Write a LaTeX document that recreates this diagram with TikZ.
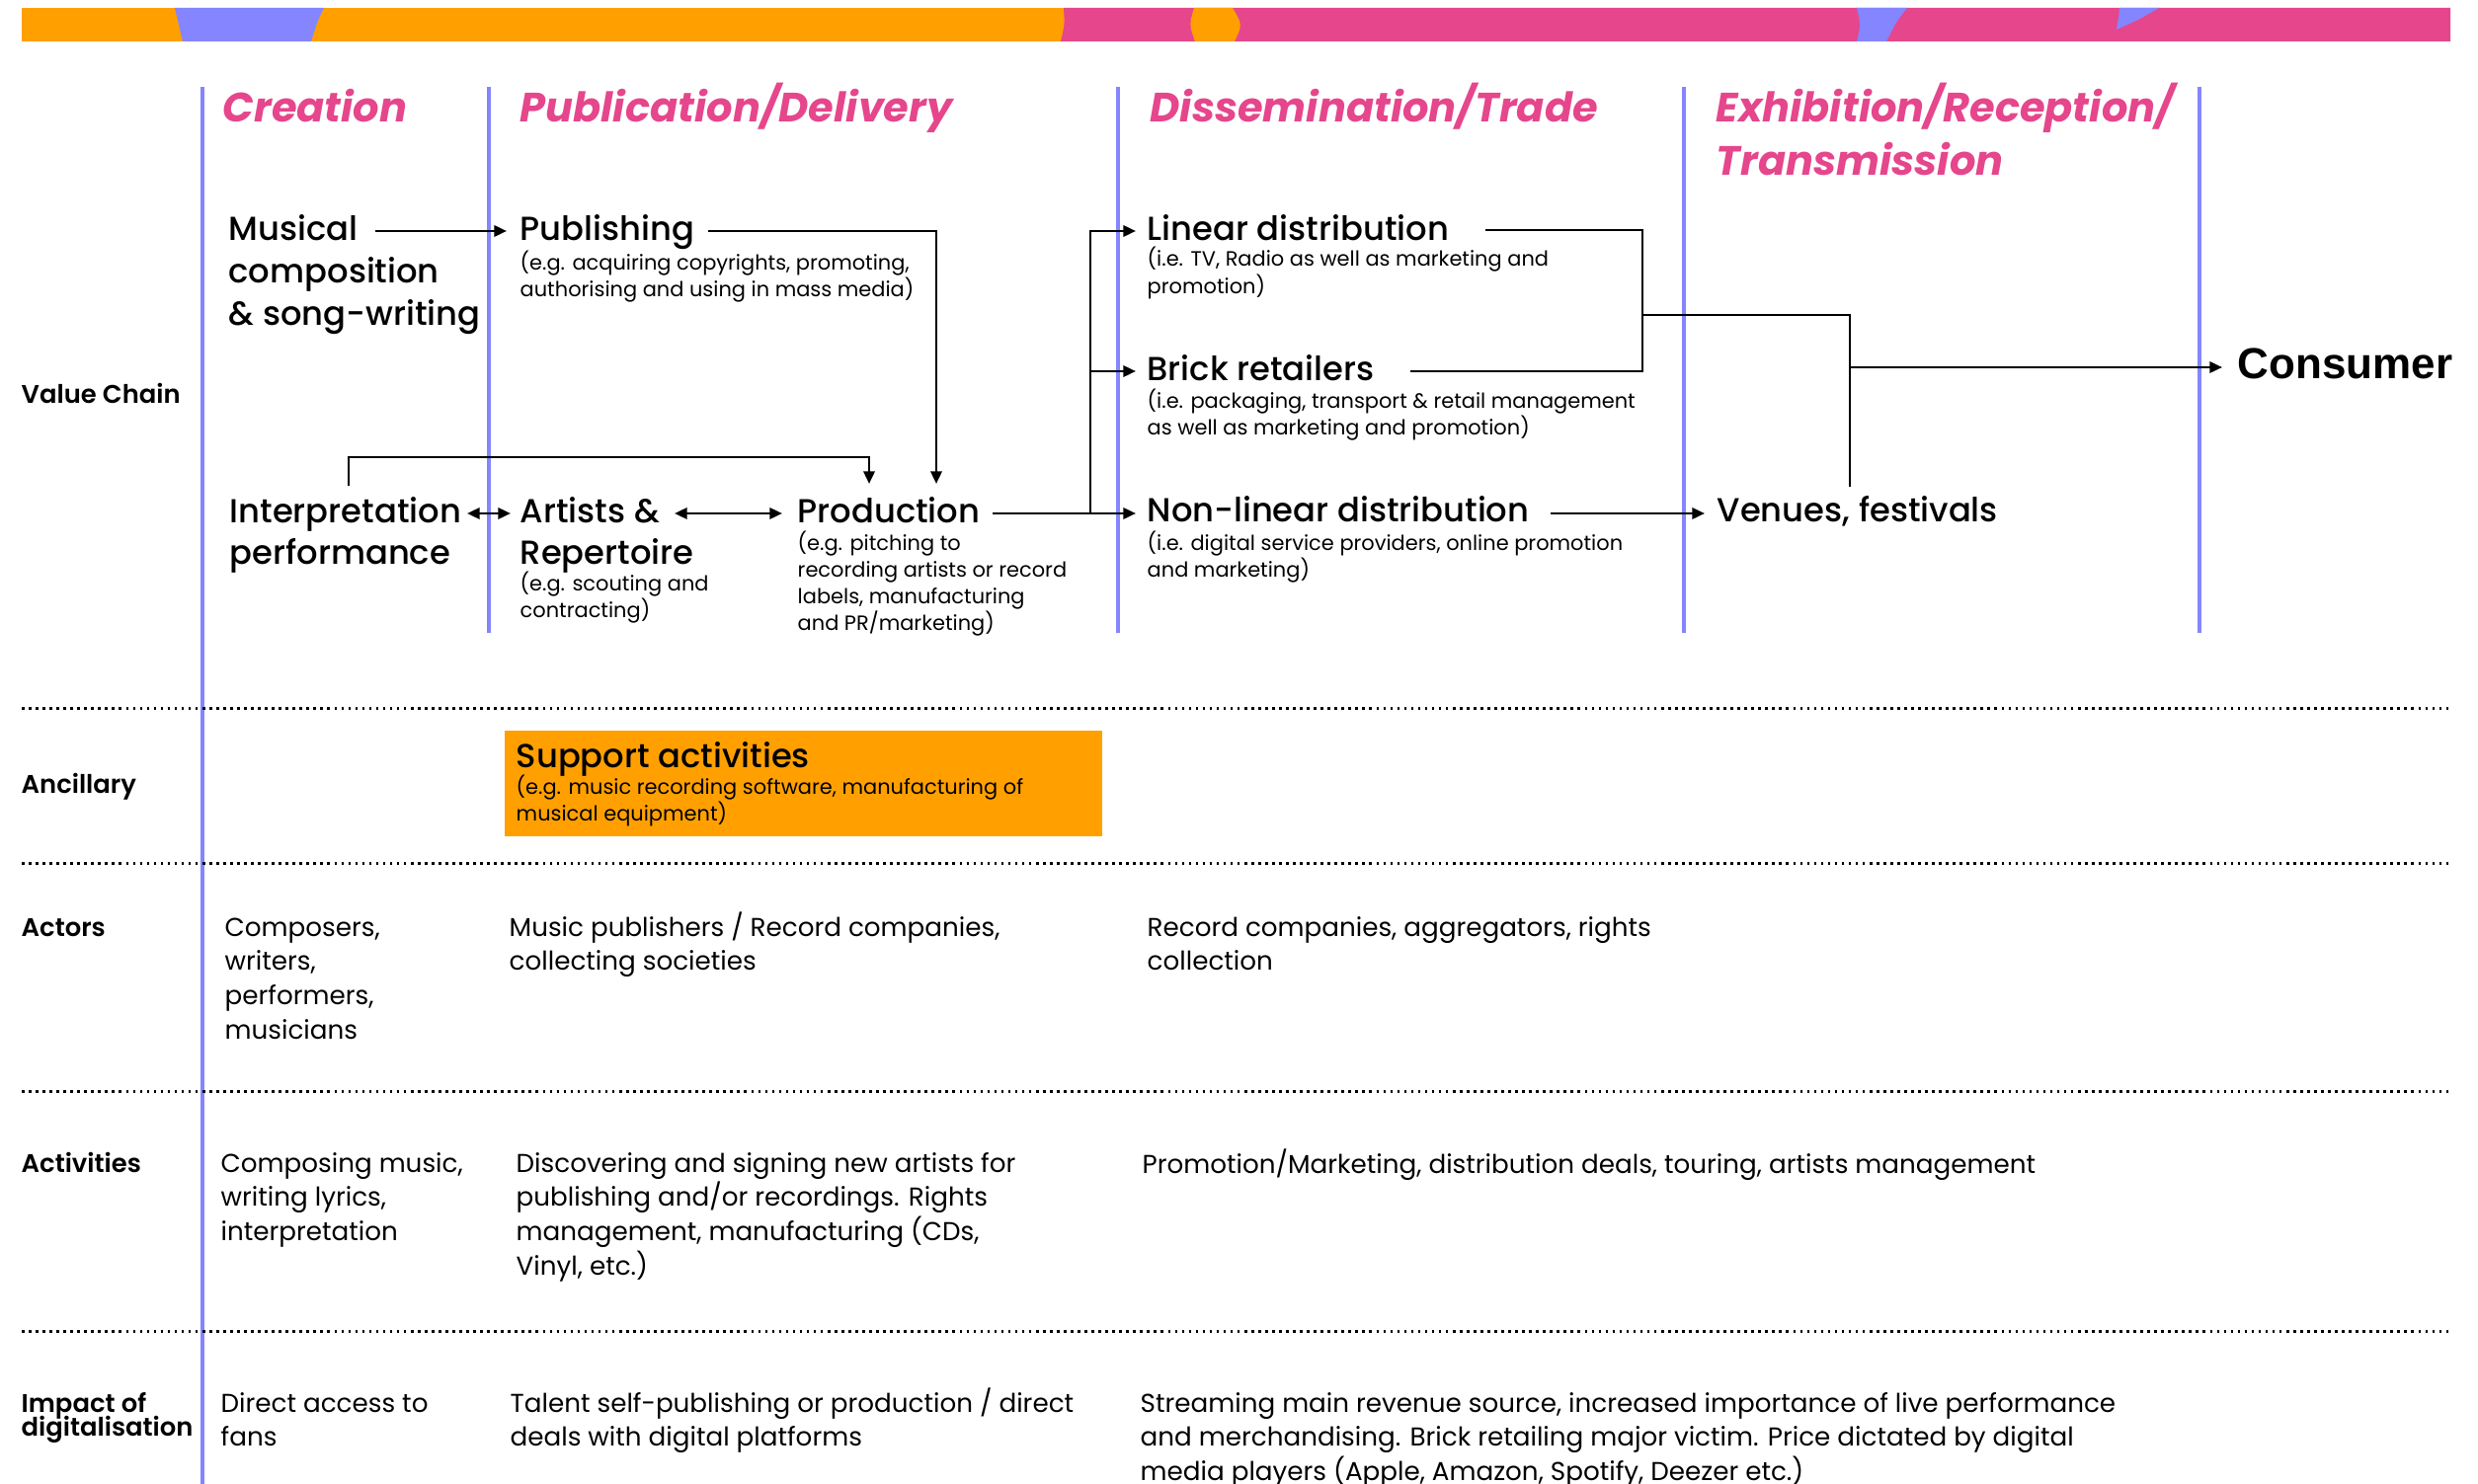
\documentclass[tikz,border=0pt]{standalone}
\usepackage{fontspec}
\setmainfont{Poppins}
\newfontfamily\pmed{Poppins Medium}
\newfontfamily\psemi{Poppins SemiBold}
\newfontfamily\arialf{Liberation Sans}
\usetikzlibrary{arrows.meta}
\definecolor{vio}{HTML}{8585FF}
\definecolor{pnk}{HTML}{E5468C}
\definecolor{org}{HTML}{FFA000}
\newcommand\ml[1]{\vtop{\lineskiplimit=-50pt\let\\\cr\halign{##\hfil\cr#1\crcr}}}
\begin{document}
\begin{tikzpicture}[x=0.01cm,y=-0.01cm,
  vline/.style={draw=vio, line width=1.3pt},
  dotl/.style={line width=0.85pt, dash pattern=on 0.75pt off 1.25pt},
  conn/.style={line width=0.75pt},
  arr/.style={conn, -{Triangle[length=3.6pt,width=3.2pt]}},
  darr/.style={conn, {Triangle[length=3.6pt,width=3.2pt]}-{Triangle[length=3.6pt,width=3.2pt]}},
  hdr/.style={anchor=base west, inner sep=0, text=pnk, font=\fontsize{11.8}{15.1}\selectfont\bfseries\itshape},
  ttl/.style={anchor=base west, inner sep=0, font=\pmed\fontsize{9.6}{12.1}\selectfont},
  sub/.style={anchor=base west, inner sep=0, font=\fontsize{5.95}{7.7}\selectfont},
  body/.style={anchor=base west, inner sep=0, font=\fontsize{7.45}{9.9}\selectfont},
  lbl/.style={anchor=base west, inner sep=0, font=\psemi\fontsize{7.35}{7.1}\selectfont},
]
\useasboundingbox (0,0) rectangle (2509,1503);
\clip (0,0) rectangle (2509,1503);
\fill[white] (0,0) rectangle (2509,1503);

% top band
\fill[org] (22,8) rectangle (2481,42);
\fill[vio] (177,8) -- (328,8) .. controls (322,20) .. (315,42) -- (185,42) .. controls (180,25) .. (177,8) -- cycle;
\fill[pnk] (1077,8) -- (2481,8) -- (2481,42) -- (1074,42) .. controls (1078,25) .. (1077,8) -- cycle;
\fill[org] (1209,8) -- (1248,8) .. controls (1258,25) .. (1250,42) -- (1210,42) .. controls (1204,25) .. (1209,8) -- cycle;
\fill[vio] (1880,8) -- (1931,8) .. controls (1920,22) .. (1910,42) -- (1880,42) .. controls (1884,25) .. (1880,8) -- cycle;
\fill[vio] (2146,8) -- (2186,8) -- (2165,20) -- (2143,30) -- (2145,18) -- cycle;

% vertical lines
\draw[vline] (205,88) -- (205,1503);
\draw[vline] (495,88) -- (495,641);
\draw[vline] (1132,88) -- (1132,641);
\draw[vline] (1705,88) -- (1705,641);
\draw[vline] (2227,88) -- (2227,641);

% dotted separators
\foreach \yy in {717,874,1105,1348} \draw[dotl] (22,\yy) -- (2482,\yy);

% headers
\node[hdr] (hCre) at (225,124) {Creation};
\node[hdr] (hPub) at (526,124) {Publication/Delivery};
\node[hdr] (hDis) at (1164,124) {Dissemination/Trade};
\node[hdr] (hExh) at (1737,124) {\ml{Exhibition/Reception/\\Transmission}};

% row labels
\node[lbl] (lVC) at (21,408) {Value Chain};
\node[lbl] (lAnc) at (21,803) {Ancillary};
\node[lbl] (lAct) at (21,948) {Actors};
\node[lbl] (lActv) at (21,1187) {Activities};
\node[lbl] (lImp) at (21,1430) {\ml{Impact of\\digitalisation}};

% value chain nodes
\node[ttl] (nMus) at (231,244) {\ml{Musical\\composition\\\& song-writing}};
\node[ttl] (nPub) at (526,244) {Publishing};
\node[sub] (nPubS) at (526,273) {\ml{(e.g. acquiring copyrights, promoting,\\authorising and using in mass media)}};
\node[ttl] (nInt) at (232,529) {\ml{Interpretation\\performance}};
\node[ttl] (nArt) at (526,529) {\ml{Artists \&\\Repertoire}};
\node[sub] (nArtS) at (526,598) {\ml{(e.g. scouting and\\contracting)}};
\node[ttl] (nPro) at (807,529) {Production};
\node[sub] (nProS) at (807,557) {\ml{(e.g. pitching to\\recording artists or record\\labels, manufacturing\\and PR/marketing)}};
\node[ttl] (nLin) at (1161,243) {Linear distribution};
\node[sub] (nLinS) at (1161,270) {\ml{(i.e. TV, Radio as well as marketing and\\promotion)}};
\node[ttl] (nBri) at (1161,385) {Brick retailers};
\node[sub] (nBriS) at (1161,413) {\ml{(i.e. packaging, transport \& retail management\\as well as marketing and promotion)}};
\node[ttl] (nNon) at (1161,528) {Non-linear distribution};
\node[sub] (nNonS) at (1161,557) {\ml{(i.e. digital service providers, online promotion\\and marketing)}};
\node[ttl] (nVen) at (1738,528) {Venues, festivals};
\node[anchor=base west, inner sep=0, font=\arialf\bfseries\fontsize{12.5}{14}\selectfont] (nCon) at (2265,383) {Consumer};

% support box
\fill[org] (511,740) rectangle (1116,847);
\node[ttl] (nSup) at (522,777) {Support activities};
\node[sub] (nSupS) at (522,804) {\ml{(e.g. music recording software, manufacturing of\\musical equipment)}};

% actors
\node[body] (aCre) at (227,948) {\ml{Composers,\\writers,\\performers,\\musicians}};
\node[body] (aPub) at (515,948) {\ml{Music publishers / Record companies,\\collecting societies}};
\node[body] (aDis) at (1161,948) {\ml{Record companies, aggregators, rights\\collection}};

% activities
\node[body] (vCre) at (223,1187) {\ml{Composing music,\\writing lyrics,\\interpretation}};
\node[body] (vPub) at (522,1187) {\ml{Discovering and signing new artists for\\publishing and/or recordings. Rights\\management, manufacturing (CDs,\\Vinyl, etc.)}};
\node[body] (vDis) at (1156,1188) {Promotion/Marketing, distribution deals, touring, artists management};

% impact
\node[body] (iCre) at (223,1430) {\ml{Direct access to\\fans}};
\node[body] (iPub) at (516,1430) {\ml{Talent self-publishing or production / direct\\deals with digital platforms}};
\node[body] (iDis) at (1154,1430) {\ml{Streaming main revenue source, increased importance of live performance\\and merchandising. Brick retailing major victim. Price dictated by digital\\media players (Apple, Amazon, Spotify, Deezer etc.)}};

% connector coordinates
\coordinate (musR) at (380,234);
\coordinate (pubL) at (513,234);
\coordinate (pubR) at (717,234);
\coordinate (proT1) at (948,490);
\coordinate (intT) at (353,492);
\coordinate (proT2) at (880,490);
\coordinate (intR) at (473,520);
\coordinate (artL) at (517,520);
\coordinate (artR) at (683,520);
\coordinate (proL) at (792,520);
\coordinate (proR) at (1005,520);
\coordinate (split) at (1104,520);
\coordinate (linL) at (1150,234);
\coordinate (briL) at (1150,376);
\coordinate (nonL) at (1150,520);
\coordinate (linR) at (1504,233);
\coordinate (briR) at (1428,376);
\coordinate (merge) at (1663,319);
\coordinate (venT) at (1873,493);
\coordinate (conJ) at (1873,372);
\coordinate (conL) at (2250,372);
\coordinate (nonR) at (1570,520);
\coordinate (venL) at (1726,520);

\draw[arr] (musR) -- (pubL);
\draw[arr] (pubR) -| (proT1);
\draw[arr] (intT) -- (353,463) -| (proT2);
\draw[darr] (intR) -- (artL);
\draw[darr] (artR) -- (proL);
\draw[arr] (proR) -- (nonL);
\draw[arr] (split) |- (linL);
\draw[arr] (1104,376) -- (briL);
\draw[conn] (linR) -| (1663,376) -- (briR);
\draw[conn] (merge) -| (venT);
\draw[arr] (conJ) -- (conL);
\draw[arr] (nonR) -- (venL);
\end{tikzpicture}
\end{document}
